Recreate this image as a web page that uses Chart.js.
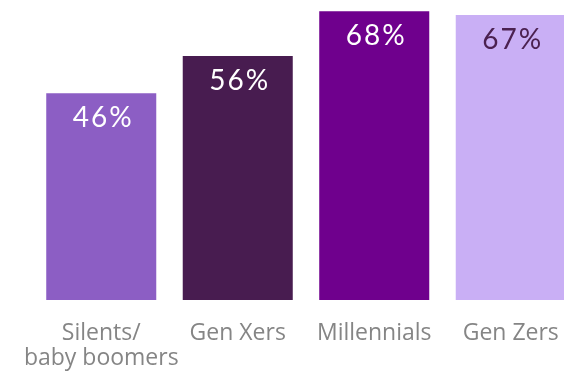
<!DOCTYPE html>
<html>
<head>
<meta charset="utf-8">
<script src="https://cdn.jsdelivr.net/npm/chart.js@4"></script>
<style>
  html, body { margin: 0; padding: 0; background: #fff; overflow: hidden; }
  #wrap { width: 582px; height: 374px; }
</style>
</head>
<body>
<div id="wrap"><canvas id="genChart" width="582" height="374"></canvas></div>
<script>
// Share of each generation, in percent
const generations = [['Silents/', 'baby boomers'], 'Gen Xers', 'Millennials', 'Gen Zers'];
const shares = [46, 56, 68, 67];
const barColors = ['#8C5EC4', '#481C50', '#6F008D', '#C9AFF5'];
const labelColors = ['#FFFFFF', '#FFFFFF', '#FFFFFF', '#4B2150'];

// draws the "NN%" text just inside the top of each bar
const valueLabels = {
  id: 'valueLabels',
  afterDatasetsDraw(chart) {
    const ctx = chart.ctx;
    const meta = chart.getDatasetMeta(0);
    ctx.save();
    ctx.font = '400 28px Lato';
    ctx.letterSpacing = '2px';
    ctx.textAlign = 'center';
    ctx.textBaseline = 'alphabetic';
    meta.data.forEach((bar, i) => {
      ctx.fillStyle = labelColors[i];
      ctx.fillText(shares[i] + '%', bar.x + 2, bar.y + 34);
    });
    ctx.restore();
  }
};

const ctx = document.getElementById('genChart').getContext('2d');
const genChart = new Chart(ctx, {
  type: 'bar',
  data: {
    labels: generations,
    datasets: [{
      data: shares,
      backgroundColor: barColors,
      base: -9.5,
      categoryPercentage: 0.806,
      barPercentage: 1.0,
      borderWidth: 0
    }]
  },
  options: {
    responsive: false,
    animation: false,
    layout: { padding: { top: 0, left: 33, right: 3, bottom: 0 } },
    plugins: {
      legend: { display: false },
      tooltip: { enabled: false }
    },
    scales: {
      x: {
        grid: { display: false },
        border: { display: false },
        ticks: {
          color: '#858585',
          font: { family: 'Open Sans', size: 23, lineHeight: 1.1 },
          padding: 13,
          maxRotation: 0,
          autoSkip: false
        },
        afterFit: (scale) => { scale.height = 74; }
      },
      y: {
        display: false,
        min: -9.5,
        max: 71
      }
    }
  },
  plugins: [valueLabels]
});
</script>
</body>
</html>
